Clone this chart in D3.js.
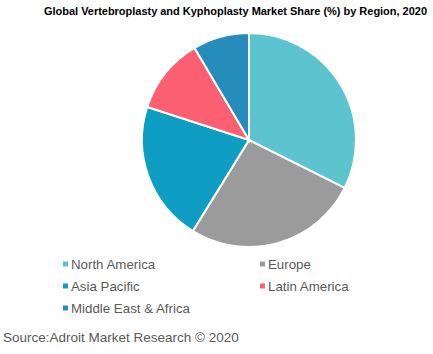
<!DOCTYPE html>
<html>
<head>
<meta charset="utf-8">
<script src="https://cdn.jsdelivr.net/npm/d3@7"></script>
<style>
  body { margin: 0; background: #fff; }
  text { font-family: "Liberation Sans", Arial, sans-serif; }
</style>
</head>
<body>
<svg id="chart"></svg>
<script>
const regions = ["North America", "Europe", "Asia Pacific", "Latin America", "Middle East & Africa"];
const shares = [32.4, 26.4, 21.2, 11.5, 8.5];
const colors = ["#5BC4CF", "#9B9B9B", "#0E9EC4", "#FC6070", "#268CBC"];

const width = 433, height = 354;
const radius = 107;

const svg = d3.select("#chart")
    .attr("width", width)
    .attr("height", height);

svg.append("text")
    .attr("x", 44)
    .attr("y", 15)
    .attr("font-size", "11px")
    .attr("font-weight", "bold")
    .attr("textLength", 383)
    .attr("lengthAdjust", "spacing")
    .attr("fill", "#000")
    .text("Global Vertebroplasty and Kyphoplasty Market Share (%) by Region, 2020");

const chart = svg.append("g")
    .attr("transform", "translate(249, 140)");

const pie = d3.pie().sort(null).value(d => d);
const arc = d3.arc().innerRadius(0).outerRadius(radius);
const color = d3.scaleOrdinal().domain(regions).range(colors);

chart.selectAll("path")
    .data(pie(shares))
    .enter()
    .append("path")
    .attr("d", arc)
    .attr("fill", (d, i) => color(regions[i]))
    .attr("stroke", "white")
    .style("stroke-width", "2px");

// legend, two columns
const legend = svg.append("g");
const item = legend.selectAll("g")
    .data(regions)
    .enter()
    .append("g")
    .attr("transform", (d, i) => `translate(${i % 2 === 0 ? 63 : 260}, ${264 + Math.floor(i / 2) * 22})`);

item.append("rect")
    .attr("x", 0)
    .attr("y", -2.5)
    .attr("width", 5)
    .attr("height", 5)
    .attr("fill", d => color(d));

item.append("text")
    .attr("x", 8)
    .attr("dy", "0.35em")
    .attr("font-size", "13.3px")
    .attr("fill", "#595959")
    .text(d => d);

svg.append("text")
    .attr("x", 3)
    .attr("y", 342)
    .attr("font-size", "13.5px")
    .attr("fill", "#595959")
    .text("Source:Adroit Market Research \u00A9 2020");
</script>
</body>
</html>
